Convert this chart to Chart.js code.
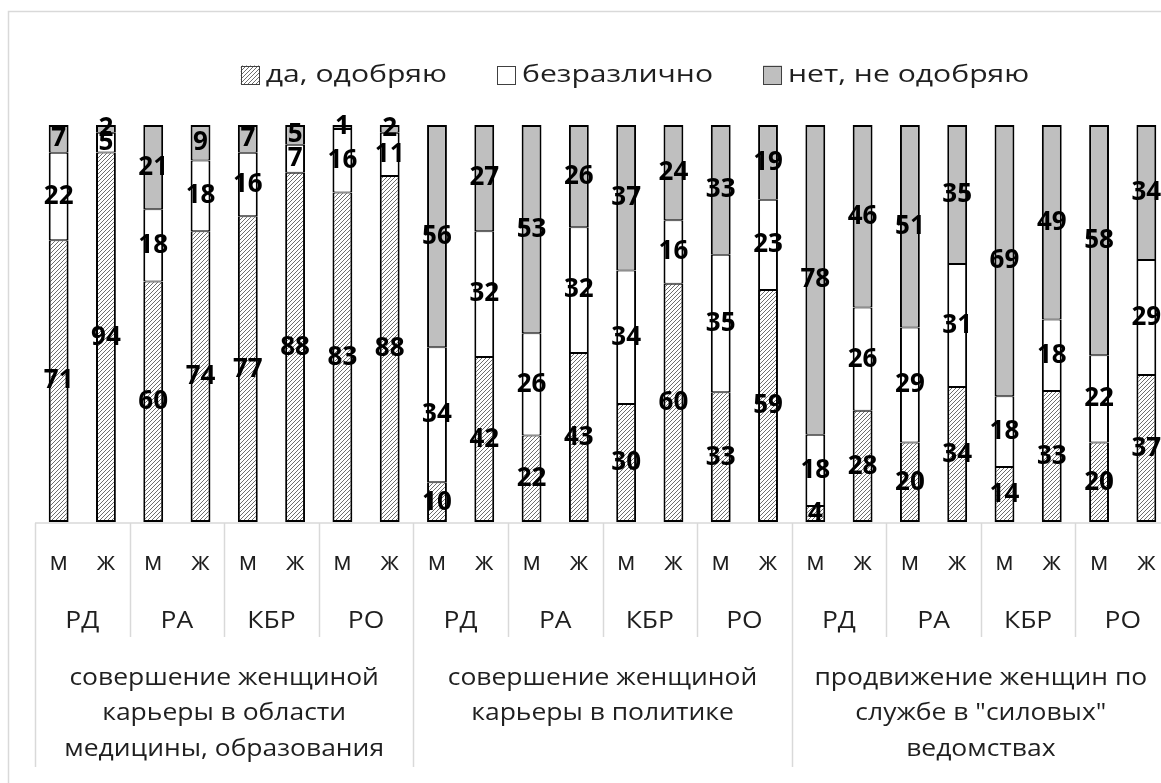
<!DOCTYPE html>
<html>
<head>
<meta charset="utf-8">
<script src="https://cdn.jsdelivr.net/npm/chart.js@4"></script>
<style>
  html, body { margin: 0; padding: 0; background: #fff; overflow: hidden; }
  canvas { display: block; }
</style>
</head>
<body>
<canvas id="myChart" width="1270" height="800"></canvas>
<script>
const sexes = ['м', 'ж'];
const regions = ['РД', 'РА', 'КБР', 'РО'];
const topics = [
  ['совершение женщиной', 'карьеры в области', 'медицины, образования'],
  ['совершение женщиной', 'карьеры в политике'],
  ['продвижение женщин по', 'службе в "силовых"', 'ведомствах'],
];
const seriesNames = ['да, одобряю', 'безразлично', 'нет, не одобряю'];

// values per bar: topic -> region -> м, ж
const yes     = [71, 94, 60, 74, 77, 88, 83, 88,  10, 42, 22, 43, 30, 60, 33, 59,  4, 28, 20, 34, 14, 33, 20, 37];
const neutral = [22,  5, 18, 18, 16,  7, 16, 11,  34, 32, 26, 32, 34, 16, 35, 23, 18, 26, 29, 31, 18, 18, 22, 29];
const no      = [ 7,  2, 21,  9,  7,  5,  1,  2,  56, 27, 53, 26, 37, 24, 33, 19, 78, 46, 51, 35, 69, 49, 58, 34];

const TEXT = '#1f1f1f';
const GRID = '#d9d9d9';
const FONT = '"Open Sans", "Noto Sans", sans-serif';
const STRETCH = 1.15;
const LEGEND_STRETCH = 1.31;

const labels = [];
topics.forEach(() => regions.forEach(() => sexes.forEach(s => labels.push(s))));

// hatched fill like the excel pattern
function makeHatch() {
  const c = document.createElement('canvas');
  c.width = 4; c.height = 4;
  const g = c.getContext('2d');
  g.fillStyle = '#ffffff';
  g.fillRect(0, 0, 4, 4);
  g.strokeStyle = '#6e6e6e';
  g.lineWidth = 1;
  g.beginPath();
  g.moveTo(0, 4); g.lineTo(4, 0);
  g.moveTo(-1, 1); g.lineTo(1, -1);
  g.moveTo(3, 5); g.lineTo(5, 3);
  g.stroke();
  return g.createPattern(c, 'repeat');
}

const ctx = document.getElementById('myChart').getContext('2d');
const hatch = makeHatch();
const fills = [hatch, '#ffffff', '#bfbfbf'];

const totals = yes.map((v, i) => v + neutral[i] + no[i]);
const pct = arr => arr.map((v, i) => v / totals[i] * 100);

const raw = [yes, neutral, no];
const borders = [
  { top: 1, bottom: 2, left: 2, right: 2 },
  { top: 1, bottom: 1, left: 2, right: 2 },
  { top: 2, bottom: 1, left: 2, right: 2 },
];

function wideText(g, text, x, y, sx) {
  g.save();
  g.translate(x, y);
  g.scale(sx || STRETCH, 1);
  g.fillText(text, 0, 0);
  g.restore();
}

const framePlugin = {
  id: 'frame',
  beforeDraw(chart) {
    const g = chart.ctx;
    g.save();
    g.fillStyle = '#fff';
    g.fillRect(0, 0, chart.width, chart.height);
    g.strokeStyle = GRID;
    g.lineWidth = 1.5;
    g.strokeRect(8.5, 11.5, chart.width - 17, chart.height - 8);
    g.restore();
  },
};

const valueLabels = {
  id: 'valueLabels',
  afterDatasetsDraw(chart) {
    const g = chart.ctx;
    g.save();
    g.font = 'bold 26px ' + FONT;
    g.fillStyle = '#000';
    g.textAlign = 'center';
    g.textBaseline = 'middle';
    chart.data.datasets.forEach((ds, di) => {
      chart.getDatasetMeta(di).data.forEach((el, i) => {
        const p = el.getProps(['x', 'y', 'base'], true);
        g.fillText(String(ds.raw[i]), p.x, (p.y + p.base) / 2);
      });
    });
    g.restore();
  },
};

const multiAxis = {
  id: 'multiAxis',
  afterDraw(chart) {
    const g = chart.ctx;
    const x = chart.scales.x;
    const bottom = chart.chartArea.bottom;
    const half = (x.getPixelForValue(1) - x.getPixelForValue(0)) / 2;
    const edge = i => i < labels.length ? x.getPixelForValue(i) - half : x.getPixelForValue(i - 1) + half;

    g.save();
    g.strokeStyle = GRID;
    g.lineWidth = 1.5;
    g.beginPath();
    g.moveTo(edge(0), bottom + 1);
    g.lineTo(edge(labels.length), bottom + 1);
    for (let i = 0; i <= labels.length; i += 2) {
      const bx = Math.round(edge(i)) + 0.5;
      g.moveTo(bx, bottom + 1);
      g.lineTo(bx, bottom + (i % 8 === 0 ? 245 : 115));
    }
    g.stroke();

    g.fillStyle = TEXT;
    g.font = '23px ' + FONT;
    g.textAlign = 'center';
    g.textBaseline = 'middle';
    let k = 0;
    topics.forEach((lines, t) => {
      regions.forEach(r => {
        const cx = (x.getPixelForValue(k) + x.getPixelForValue(k + 1)) / 2;
        wideText(g, r, cx, bottom + 99);
        k += 2;
      });
      const cx = (edge(t * 8) + edge(t * 8 + 8)) / 2;
      lines.forEach((line, j) => wideText(g, line, cx, bottom + 156 + j * 35.5));
    });
    g.restore();
  },
};

const legendPlugin = {
  id: 'customLegend',
  afterDraw(chart) {
    const g = chart.ctx;
    const box = 19, gap = 6, itemGap = 50, cy = 75;
    g.save();
    g.font = '23px ' + FONT;
    g.textBaseline = 'middle';
    g.textAlign = 'left';
    const widths = seriesNames.map(n => g.measureText(n).width * LEGEND_STRETCH);
    const total = widths.reduce((a, w) => a + box + gap + w, 0) + itemGap * (seriesNames.length - 1);
    let lx = chart.width / 2 - total / 2;
    seriesNames.forEach((name, i) => {
      g.fillStyle = fills[i];
      g.fillRect(lx, cy - box / 2, box, box);
      g.strokeStyle = '#404040';
      g.lineWidth = 1;
      g.strokeRect(Math.round(lx) + 0.5, Math.round(cy - box / 2) + 0.5, box - 1, box - 1);
      g.fillStyle = TEXT;
      wideText(g, name, lx + box + gap, cy, LEGEND_STRETCH);
      lx += box + gap + widths[i] + itemGap;
    });
    g.restore();
  },
};

const myChart = new Chart(ctx, {
  type: 'bar',
  data: {
    labels,
    datasets: seriesNames.map((name, i) => ({
      label: name,
      data: pct(raw[i]),
      raw: raw[i],
      backgroundColor: fills[i],
      borderColor: '#000',
      borderWidth: borders[i],
      borderSkipped: false,
      categoryPercentage: 1,
      barPercentage: 0.42,
    })),
  },
  options: {
    responsive: false,
    animation: false,
    layout: { padding: { top: 125, left: 35, right: 100, bottom: 0 } },
    plugins: {
      legend: { display: false },
      tooltip: { enabled: false },
    },
    scales: {
      x: {
        stacked: true,
        grid: { display: false, drawTicks: false },
        border: { display: false },
        ticks: {
          color: TEXT,
          font: { family: FONT, size: 25 },
          padding: 26,
          maxRotation: 0,
          autoSkip: false,
        },
        afterFit(scale) { scale.height = 278; },
      },
      y: { stacked: true, display: false, min: 0, max: 100 },
    },
  },
  plugins: [framePlugin, valueLabels, multiAxis, legendPlugin],
});
</script>
</body>
</html>
